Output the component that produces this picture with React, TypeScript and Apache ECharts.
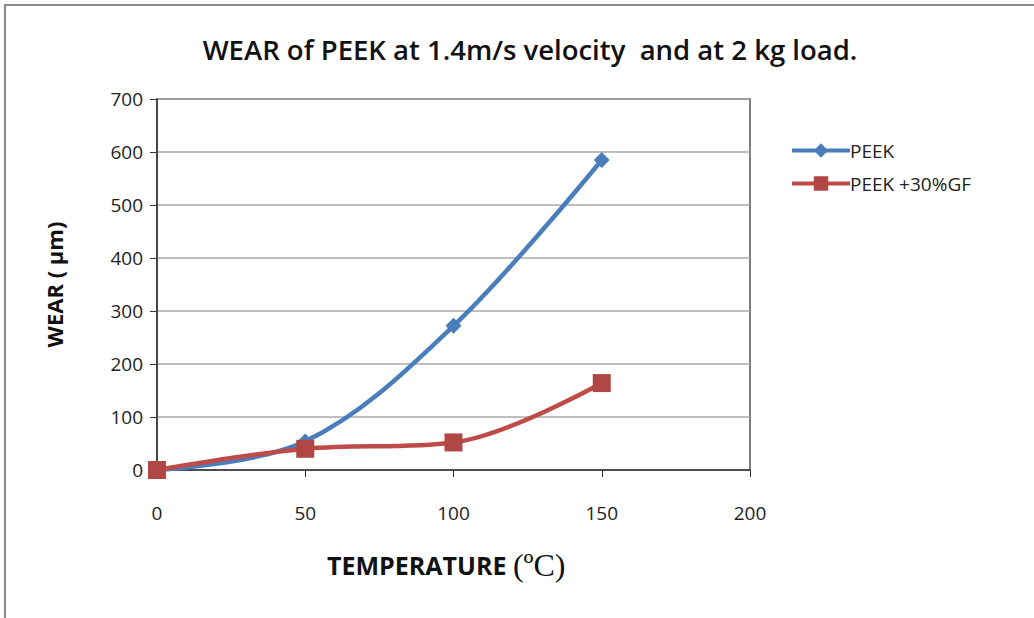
import React, { useEffect, useRef } from "react";
import * as echarts from "echarts";

const temperatures = [0, 50, 100, 150];
const peekWear = [0, 54, 272, 585];
const peekGfWear = [0, 40, 52, 164];
const seriesNames = ["PEEK", "PEEK +30%GF"];
const titleText = "WEAR of PEEK at 1.4m/s velocity  and at 2 kg load.";

export default function App() {
  const ref = useRef<HTMLDivElement>(null);
  useEffect(() => {
    const chart = echarts.init(ref.current!, null, { renderer: "svg" });
    const tickFont = { fontFamily: "Open Sans", fontSize: 19, color: "#222" };
    chart.setOption({
      animation: false,
      backgroundColor: "#fff",
      title: {
        text: titleText,
        left: 525,
        top: 30,
        textAlign: "center",
        textStyle: { fontFamily: "Open Sans", fontWeight: 600, fontSize: 27.5, color: "#111" },
      },
      graphic: [
        {
          type: "rect",
          shape: { x: 5, y: 5, width: 1100, height: 700 },
          style: { fill: "none", stroke: "#8a8a8a", lineWidth: 2 },
          silent: true,
        },
        {
          type: "text",
          left: 327,
          top: 549,
          style: {
            rich: {
              a: { fontFamily: "Open Sans", fontWeight: 700, fontSize: 25, fill: "#111" },
              b: { fontFamily: "Liberation Serif", fontSize: 32, fill: "#111" },
            },
            text: "{a|TEMPERATURE }{b|(ºC)}",
          },
        },
      ],
      legend: {
        orient: "vertical",
        left: 785,
        top: 136,
        itemWidth: 58,
        itemHeight: 18,
        itemGap: 14,
        lineStyle: { width: 4 },
        textStyle: { fontFamily: "Open Sans", fontSize: 19, color: "#222", padding: [0, 0, 0, -5] },
        data: seriesNames,
      },
      grid: {
        left: 157,
        top: 99,
        width: 593,
        height: 371,
        show: true,
        borderColor: "#555",
        borderWidth: 1.5,
      },
      xAxis: {
        type: "value",
        min: 0,
        max: 200,
        interval: 50,
        axisLine: { lineStyle: { color: "#333", width: 1.5 } },
        axisTick: { show: true, length: 7, lineStyle: { color: "#333" } },
        splitLine: { show: false },
        axisLabel: { ...tickFont, margin: 33 },
      },
      yAxis: {
        type: "value",
        min: 0,
        max: 700,
        interval: 100,
        name: "WEAR ( μm)",
        nameLocation: "middle",
        nameGap: 92,
        nameRotate: 90,
        nameTextStyle: { fontFamily: "Open Sans", fontWeight: 700, fontSize: 22, color: "#111" },
        axisLine: { show: true, lineStyle: { color: "#333", width: 1.5 } },
        axisTick: { show: true, length: 7, lineStyle: { color: "#333" } },
        splitLine: { show: true, lineStyle: { color: "#a8a8a8", width: 1.5 } },
        axisLabel: { ...tickFont, margin: 14 },
      },
      series: [
        {
          name: seriesNames[0],
          type: "line",
          smooth: 0.35,
          data: temperatures.map((t, i) => [t, peekWear[i]]),
          symbol: "diamond",
          symbolSize: 16,
          lineStyle: { color: "#4a7ebb", width: 4.5 },
          itemStyle: { color: "#4a7ebb" },
        },
        {
          name: seriesNames[1],
          type: "line",
          smooth: 0.35,
          data: temperatures.map((t, i) => [t, peekGfWear[i]]),
          symbol: "rect",
          symbolSize: 18,
          lineStyle: { color: "#be4b48", width: 4.5 },
          itemStyle: { color: "#b04744" },
        },
      ],
    });
    return () => chart.dispose();
  }, []);
  return <div ref={ref} style={{ width: 1034, height: 618, position: "absolute", left: 0, top: 0 }} />;
}
